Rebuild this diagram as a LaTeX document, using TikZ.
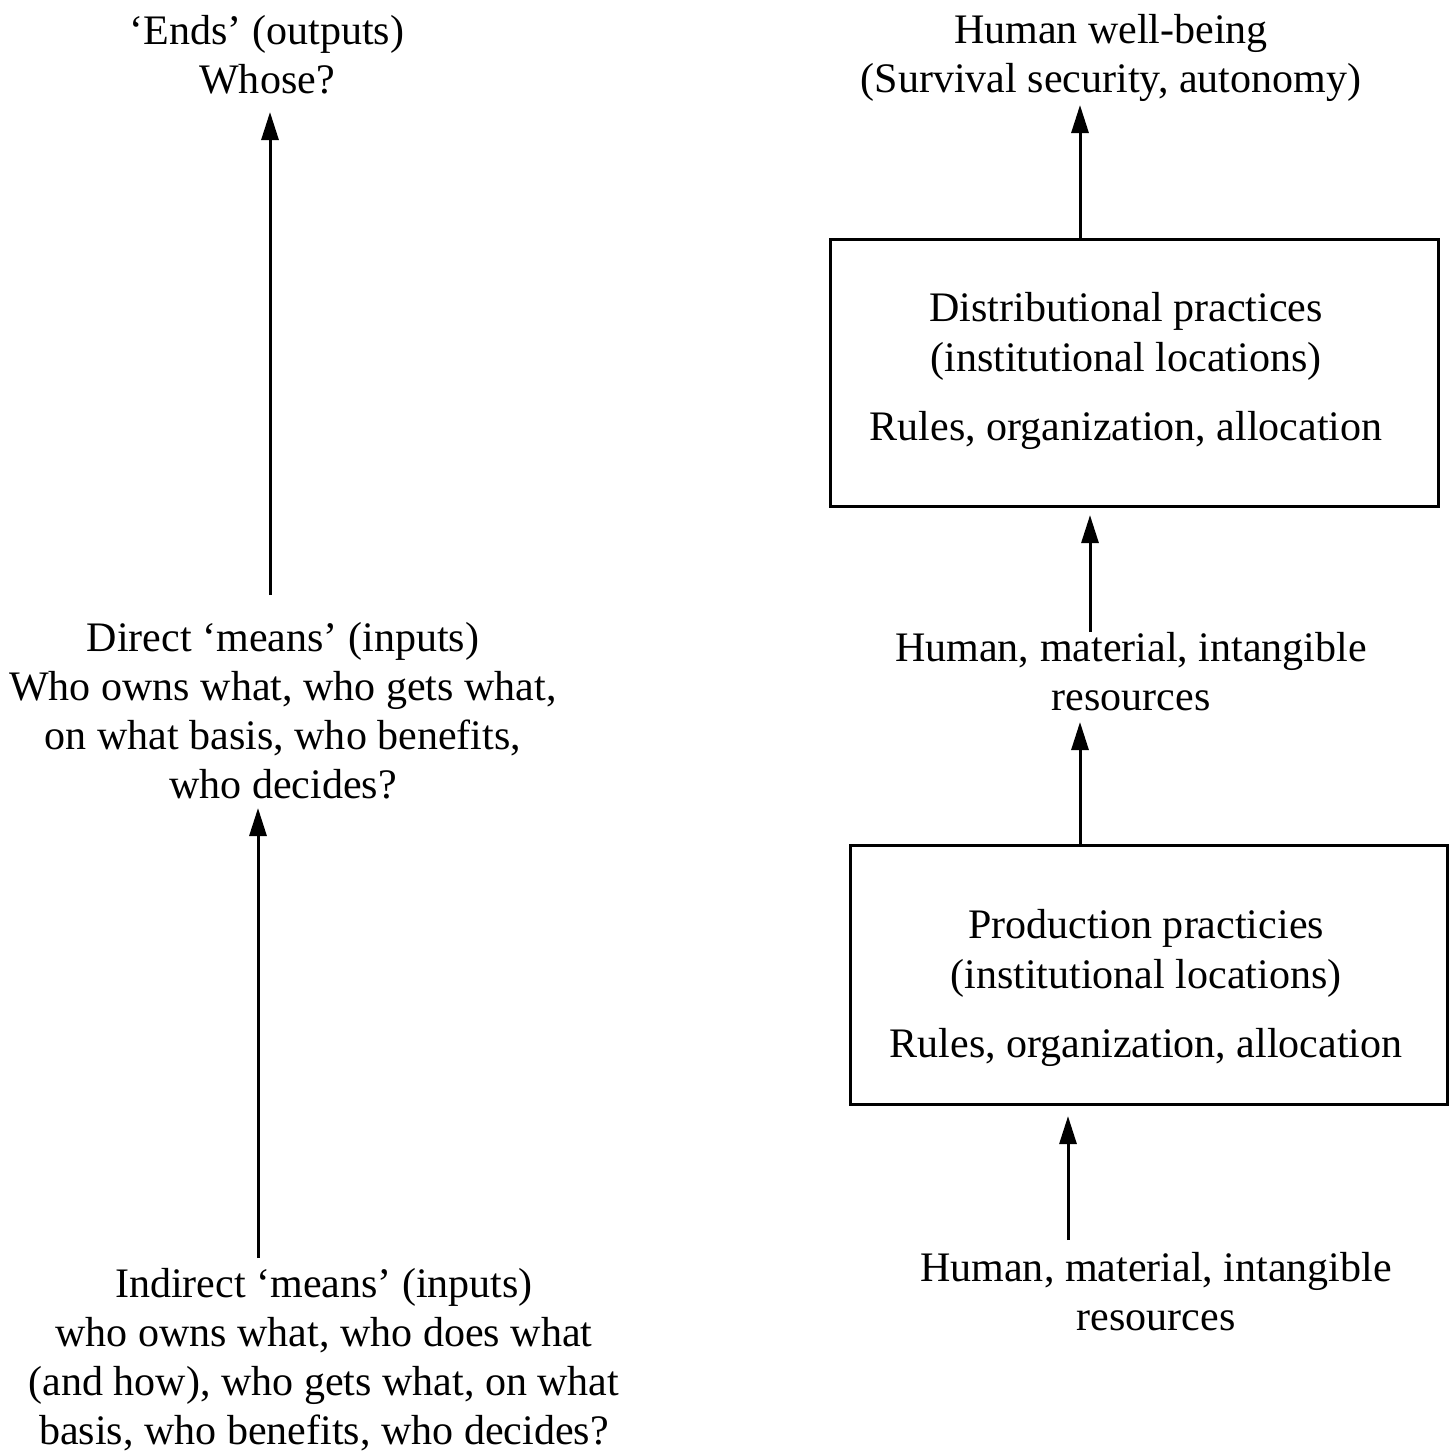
\documentclass[tikz,border=0pt]{standalone}
\usepackage{fontspec}
\setmainfont{Liberation Serif}
\usetikzlibrary{arrows.meta,calc}
\begin{document}
\begin{tikzpicture}[x=0.01cm,y=-0.01cm,
  txt/.style={align=center,inner sep=0pt,font=\fontsize{11.95pt}{13.95pt}\selectfont},
  frame/.style={draw,line width=0.03cm,inner sep=0pt,outer sep=0pt},
  arr/.style={line width=0.03cm,-{Triangle[length=0.28cm,width=0.17cm]}}]
\useasboundingbox (0,0) rectangle (1451,1451);

% left column: ends and means
\node[txt] (ends) at (267,55) {‘Ends’ (outputs)\\Whose?};
\node[txt] (direct) at (283,711) {Direct ‘means’ (inputs)\\Who owns what, who gets what,\\on what basis, who benefits,\\who decides?};
\node[txt] (indirect) at (324,1360) {Indirect ‘means’ (inputs)\\who owns what, who does what\\(and how), who gets what, on what\\basis, who benefits, who decides?};

% right column: resources, practices, well-being
\node[txt] (wellbeing) at (1111,58) {Human well-being\\(Survival security, autonomy)};
\node[frame,minimum width=6.07cm,minimum height=2.66cm] (box1) at (1134.5,373) {};
\node[txt] (dist) at (1126,371) {Distributional practices\\(institutional locations)\\[0.2cm]Rules, organization, allocation};
\node[txt] (res1) at (1131,672) {Human, material, intangible\\resources};
\node[frame,minimum width=5.96cm,minimum height=2.58cm] (box2) at (1149,975) {};
\node[txt] (prod) at (1146,988) {Production practicies\\(institutional locations)\\[0.2cm]Rules, organization, allocation};
\node[txt] (res2) at (1156,1292) {Human, material, intangible\\resources};

% connectors
\draw[arr] ($(direct)+(-13,-116)$) -- ($(ends)+(3,57)$);
\draw[arr] ($(indirect)+(-66,-102)$) -- ($(direct)+(-25,97)$);
\draw[arr] ($(box1.north)+(-54.5,0)$) -- ($(wellbeing)+(-31,47)$);
\draw[arr] ($(res1)+(-41,-40)$) -- ($(box1.south)+(-44.5,9)$);
\draw[arr] ($(box2.north)+(-69,0)$) -- ($(res1)+(-51,50)$);
\draw[arr] ($(res2)+(-88,-52)$) -- ($(box2.south)+(-81,12)$);
\end{tikzpicture}
\end{document}
